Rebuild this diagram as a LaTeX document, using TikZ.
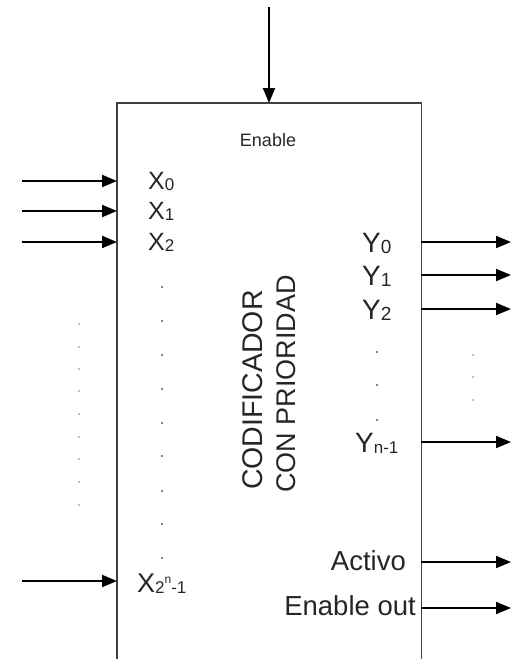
\documentclass[tikz,border=0pt]{standalone}
\usepackage{fontspec}
\setmainfont{Liberation Sans}
\usetikzlibrary{arrows.meta}
\newcommand\myfs[1]{\fontsize{#1pt}{#1pt}\selectfont}
\tikzset{
  arr/.style={line width=2pt, draw=black, -{Triangle[length=15pt,width=12pt]}},
  boxline/.style={line width=1.6pt, draw=black!75},
  lbl/.style={inner sep=0pt, anchor=base west, text=black!85, font=\myfs{25}},
  ylbl/.style={inner sep=0pt, anchor=base west, text=black!85, font=\myfs{28}},
  rlbl/.style={inner sep=0pt, anchor=base east, text=black!85, font=\myfs{27.5}},
  dotin/.style={fill=black!65, draw=none, circle, inner sep=0pt, minimum size=2.4pt},
  dotout/.style={fill=black!50, draw=none, circle, inner sep=0pt, minimum size=1.8pt},
  bigtext/.style={inner sep=0pt, anchor=base west, rotate=90, text=black!85},
}
\begin{document}
\begin{tikzpicture}[x=1pt,y=-1pt]
\useasboundingbox (0,0) rectangle (512,659);
% block
\node[minimum width=304pt, minimum height=620pt, inner sep=0pt, anchor=north west] (box) at (117,103) {};
\draw[boxline] (box.south west) -- (box.north west) -- (box.north east) -- (box.south east);
% enable in
\coordinate (ens) at (269,7);
\draw[arr] (ens) -- (ens |- box.north);
\node[inner sep=0pt, anchor=base, text=black!85, font=\myfs{18}] (enl) at (268,146) {Enable};
% inputs
\coordinate (x0s) at (22,181);
\coordinate (x1s) at (22,211);
\coordinate (x2s) at (22,242);
\coordinate (xns) at (22,581);
\draw[arr] (x0s) -- (x0s -| box.west);
\draw[arr] (x1s) -- (x1s -| box.west);
\draw[arr] (x2s) -- (x2s -| box.west);
\draw[arr] (xns) -- (xns -| box.west);
\node[lbl] (x0l) at (148,189.5) {X\raisebox{-1pt}{\myfs{17}0}};
\node[lbl] (x1l) at (148,219.5) {X\raisebox{-1pt}{\myfs{17}1}};
\node[lbl] (x2l) at (148,250.5) {X\raisebox{-1pt}{\myfs{17}2}};
\node[lbl, font=\myfs{27}] (xnl) at (137,592) {X\raisebox{-1pt}{\myfs{17}2}\raisebox{9pt}{\myfs{12}n}\raisebox{-1pt}{\myfs{17}-1}};
% outputs
\coordinate (y0e) at (511,242);
\coordinate (y1e) at (511,275);
\coordinate (y2e) at (511,309);
\coordinate (yne) at (511,442);
\coordinate (ace) at (511,562);
\coordinate (eoe) at (511,608);
\draw[arr] (y0e -| box.east) -- (y0e);
\draw[arr] (y1e -| box.east) -- (y1e);
\draw[arr] (y2e -| box.east) -- (y2e);
\draw[arr] (yne -| box.east) -- (yne);
\draw[arr] (ace -| box.east) -- (ace);
\draw[arr] (eoe -| box.east) -- (eoe);
\node[ylbl] (y0l) at (362,252) {Y\raisebox{-1pt}{\myfs{19}0}};
\node[ylbl] (y1l) at (362,285) {Y\raisebox{-1pt}{\myfs{19}1}};
\node[ylbl] (y2l) at (362,319) {Y\raisebox{-1pt}{\myfs{19}2}};
\node[ylbl] (ynl) at (355,452) {Y\raisebox{-1pt}{\myfs{17}n-1}};
\node[rlbl] (acl) at (406,570.5) {Activo};
\node[rlbl] (eol) at (416,615.5) {Enable out};
% title
\node[bigtext, font=\myfs{28.5}] (t1) at (262,490) {CODIFICADOR};
\node[bigtext, font=\myfs{27}] (t2) at (295,493) {CON PRIORIDAD};
% dots
\foreach \y [count=\i] in {324,347,369,391,414,437,459,482,505}
  \node[dotout] (lo\i) at (79,\y) {};
\foreach \y [count=\i] in {287,321,355,389,423,456,491,524,558}
  \node[dotin] (li\i) at (162,\y) {};
\foreach \y [count=\i] in {352,385,420}
  \node[dotin] (ri\i) at (377,\y) {};
\foreach \y [count=\i] in {355,377,400}
  \node[dotout] (ro\i) at (473,\y) {};
\end{tikzpicture}
\end{document}
